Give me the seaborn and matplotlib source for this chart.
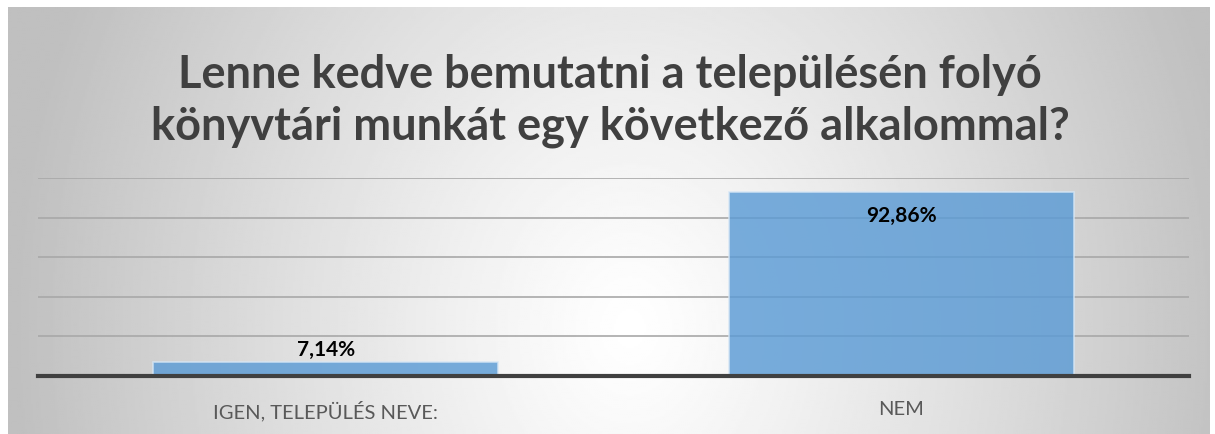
import matplotlib
matplotlib.use("Agg")
import matplotlib.pyplot as plt
import numpy as np
import pandas as pd
import seaborn as sns

categories = ["IGEN, TELEPÜLÉS NEVE:", "NEM"]
values = [7.14, 92.86]
value_labels = ["7,14%", "92,86%"]
title = "Lenne kedve bemutatni a településén folyó\nkönyvtári munkát egy következő alkalommal?"

sns.set_theme(style="white")
plt.rcParams["font.family"] = ["Lato", "DejaVu Sans"]

W, H = 1215, 435
fig = plt.figure(figsize=(W / 100, H / 100), dpi=100)
fig.patch.set_facecolor("white")

# radial gradient backdrop
bg = fig.add_axes([8 / W, 0, (1210 - 8) / W, (435 - 8) / H], zorder=-5)
gx, gy = np.meshgrid(np.linspace(8, 1210, 600), np.linspace(8, 435, 220))
r = np.sqrt(((gx - 630) / 620) ** 2 + ((gy - 330) / 760) ** 2)
shade = 1 - 0.25 * np.clip(r, 0, 1) ** 1.15
bg.imshow(shade, cmap="gray", vmin=0, vmax=1, aspect="auto",
          extent=[0, 1, 0, 1], origin="upper", interpolation="bilinear")
bg.axis("off")

ax = fig.add_axes([38 / W, (H - 377) / H, (1189 - 38) / W, (377 - 179) / H])
ax.patch.set_alpha(0)

df = pd.DataFrame({"cat": categories, "val": values})
sns.barplot(data=df, x="cat", y="val", ax=ax, color="#5b9bd5", width=0.6,
            saturation=1, alpha=0.82, edgecolor="#d6e6f5", linewidth=1.2, zorder=3)

ax.set_ylim(0, 100)
ax.set_xlim(-0.5, 1.5)
ax.set_yticks([20, 40, 60, 80, 100])
ax.yaxis.grid(True, color="#a8a8a8", linewidth=1.2, zorder=1)
ax.set_axisbelow(True)
ax.tick_params(axis="y", left=False, labelleft=False)
ax.tick_params(axis="x", bottom=False, labelsize=14.5, labelcolor="#595959", pad=11)
for s in ["top", "right", "left"]:
    ax.spines[s].set_visible(False)
ax.spines["bottom"].set_color("#404040")
ax.spines["bottom"].set_linewidth(3)
ax.spines["bottom"].set_zorder(5)
ax.set_xlabel("")
ax.set_ylabel("")

# value labels
ax.text(0, values[0] + 1.5, value_labels[0], ha="center", va="bottom",
        fontsize=15, fontweight="bold", color="black", zorder=6)
ax.text(1, values[1] - 6.5, value_labels[1], ha="center", va="top",
        fontsize=15, fontweight="bold", color="black", zorder=6)

fig.text(0.502, 0.768, title, ha="center", va="center", fontsize=32.5,
         fontweight="bold", color="#404040", linespacing=1.27)

fig.savefig("out.png", dpi=100)
